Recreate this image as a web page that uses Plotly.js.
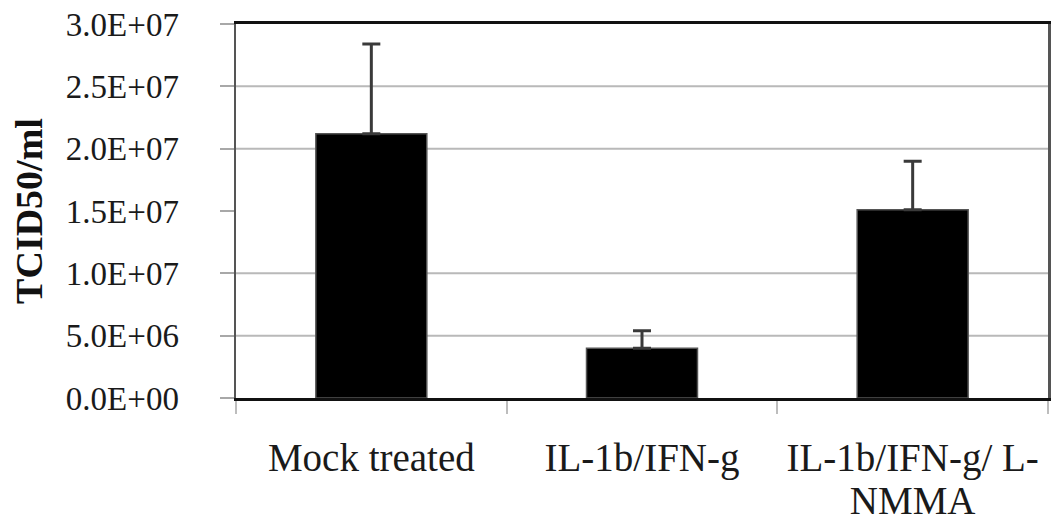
<!DOCTYPE html>
<html>
<head>
<meta charset="utf-8">
<script src="https://cdn.plot.ly/plotly-3.0.1.min.js"></script>
<style>
  html, body { margin: 0; padding: 0; background: #fff; }
  #chart { width: 1052px; height: 525px; }
</style>
</head>
<body>
<div id="chart"></div>
<script>
// ---- data ----
var categories = ['Mock treated', 'IL-1b/IFN-g', 'IL-1b/IFN-g/ L-<br>NMMA'];
var tcid50 = [2.12e7, 4.0e6, 1.51e7];
var errorUp = [7.2e6, 1.4e6, 3.9e6];
var yTickVals = [0, 5e6, 1e7, 1.5e7, 2e7, 2.5e7, 3e7];
var yTickText = ['0.0E+00', '5.0E+06', '1.0E+07', '1.5E+07', '2.0E+07', '2.5E+07', '3.0E+07'];
var gridValues = [5e6, 1e7, 2e7, 2.5e7];

var serif = 'Liberation Serif, Times New Roman, serif';

var trace = {
  type: 'bar',
  x: categories,
  y: tcid50,
  marker: { color: '#000000', line: { color: '#555555', width: 1.5 } },
  error_y: { type: 'data', symmetric: false, array: errorUp, arrayminus: errorUp.map(function(){return 0;}),
             color: '#3a3a3a', thickness: 3, width: 9 },
  hoverinfo: 'none'
};

var shapes = gridValues.map(function (v) {
  return { type: 'line', xref: 'paper', yref: 'y', x0: 0, x1: 1, y0: v, y1: v,
           line: { color: '#b9b9b9', width: 2 }, layer: 'below' };
});

var layout = {
  width: 1052, height: 525,
  margin: { l: 236, r: 4, t: 24, b: 127 },
  paper_bgcolor: '#ffffff', plot_bgcolor: '#ffffff',
  showlegend: false,
  bargap: 0.59,
  shapes: shapes,
  font: { family: serif, color: '#1a1a1a' },
  xaxis: {
    type: 'category',
    showgrid: false,
    showline: true, linecolor: '#111111', linewidth: 3, mirror: true,
    ticks: 'outside', tickson: 'boundaries', ticklen: 13, tickcolor: '#bdbdbd', tickwidth: 2,
    tickfont: { family: serif, size: 39, color: '#1a1a1a' },
    ticklabelstandoff: 23,
    zeroline: false
  },
  yaxis: {
    range: [0, 3e7],
    tickvals: yTickVals, ticktext: yTickText,
    showgrid: false,
    zeroline: false,
    showline: true, linecolor: '#555555', linewidth: 2.5, mirror: true,
    ticks: 'outside', ticklen: 14, tickcolor: '#a8a8a8', tickwidth: 2,
    tickfont: { family: serif, size: 33, color: '#1a1a1a' },
    ticklabelstandoff: 34,
    title: { text: '<b>TCID50/ml</b>', font: { family: serif, size: 38, color: '#111111' }, standoff: 12 }
  }
};

Plotly.newPlot('chart', [trace], layout, { displayModeBar: false, staticPlot: true }).then(function () {
  // tighter line spacing for the wrapped category label, as in the reference
  var lines = document.querySelectorAll('.xtick text tspan.line');
  lines.forEach(function (t) {
    if (t.getAttribute('dy') && t.getAttribute('dy') !== '0em') t.setAttribute('dy', '1.1em');
  });
});
</script>
</body>
</html>
